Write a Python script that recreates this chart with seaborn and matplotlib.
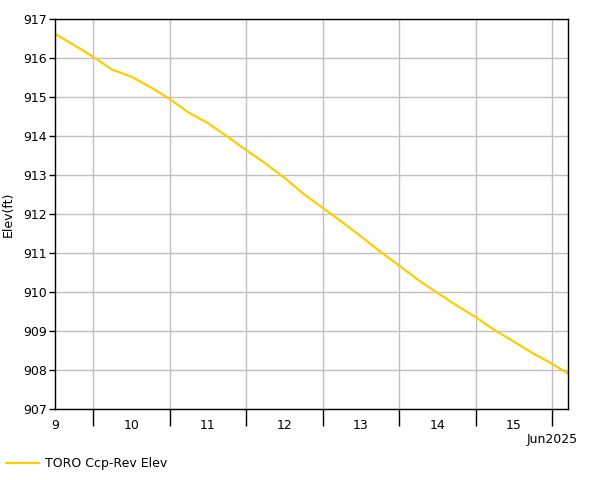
import numpy as np
import pandas as pd
import seaborn as sns
import matplotlib.pyplot as plt
import matplotlib.dates as mdates

# elevation read every 6 hours, starting Jun 9 2025 12:00
start = "2025-06-09 12:00"
elev = [916.62, 916.33, 916.03, 915.70, 915.52, 915.25, 914.95, 914.60,
        914.33, 913.99, 913.64, 913.30, 912.93, 912.52, 912.16, 911.80,
        911.43, 911.04, 910.68, 910.31, 909.98, 909.66, 909.36, 909.02,
        908.73, 908.43, 908.16]
last_time = "2025-06-16 05:00"
last_elev = 907.91

times = list(pd.date_range(start, periods=len(elev), freq="6h")) + [pd.Timestamp(last_time)]
data = pd.DataFrame({"time": times, "elev": elev + [last_elev]})

sns.set_style("white")
plt.rcParams['font.family'] = ['DejaVu Sans']
plt.rcParams['text.color'] = 'black'
plt.rcParams['axes.labelcolor'] = 'black'
plt.rcParams['xtick.color'] = 'black'
plt.rcParams['ytick.color'] = 'black'

fig = plt.figure(figsize=(6.01, 4.80), dpi=100)
ax = fig.add_axes([55/601, 71/480, 513/601, 390/480])

sns.lineplot(data=data, x="time", y="elev", ax=ax, color="#FFCC00", linewidth=1.6,
             label="TORO Ccp-Rev Elev", legend=False)

ax.set_xlim(pd.Timestamp(start), pd.Timestamp(last_time))
ax.set_ylim(907, 917)
ax.set_yticks(range(907, 918))

# midnight ticks with gridlines, labels at noon
ax.xaxis.set_major_locator(mdates.DayLocator())
ax.xaxis.set_major_formatter(plt.NullFormatter())
ax.xaxis.set_minor_locator(mdates.HourLocator(byhour=[12]))
ax.xaxis.set_minor_formatter(mdates.DateFormatter("%-d"))
ax.tick_params(axis="x", which="major", bottom=True, length=12, width=1, direction="out")
ax.tick_params(axis="x", which="minor", bottom=True, length=0, pad=7, labelsize=9)
ax.tick_params(axis="y", left=True, length=4, width=1, labelsize=9, pad=2)
ax.grid(True, which="major", color="#C0C0C0", linewidth=1)

for s in ax.spines.values():
    s.set_color("black")
    s.set_linewidth(1)

ax.set_xlabel("")
ax.set_ylabel("Elev(ft)", fontsize=9)
ax.yaxis.set_label_coords(-40/513, 0.5)
fig.text(552/601, 1 - 439/480, "Jun2025", ha="center", va="center", fontsize=9)

handles, labels = ax.get_legend_handles_labels()
fig.legend(handles, labels, loc="center left", bbox_to_anchor=(-0.008, 1 - 464/480),
           frameon=False, fontsize=9, handlelength=2.6, handletextpad=0.5)

fig.savefig("out.png", dpi=100)
